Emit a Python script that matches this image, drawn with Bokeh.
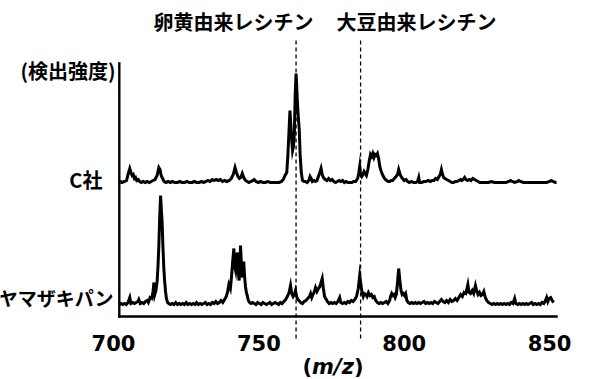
from bokeh.plotting import figure
from bokeh.models import Range1d
from bokeh.core.properties import value
from bokeh.embed import file_html
from bokeh.resources import INLINE

# ---------------- data ----------------
c_mz = [702.0, 702.5, 703.0, 703.8, 704.5, 705.0, 705.6, 706.0, 706.4, 706.8, 707.2, 707.6, 708.0, 708.5,
        709.0, 709.6, 710.2, 711.0, 711.6, 712.3, 713.0, 713.6, 714.3, 715.0, 715.6, 716.0, 716.4, 716.9,
        717.4, 718.0, 718.8, 719.5, 720.3, 721.0, 722.0, 722.8, 723.6, 724.5, 725.3, 726.0, 727.0, 727.8,
        728.6, 729.5, 730.3, 731.0, 731.8, 732.5, 733.2, 734.0, 734.6, 735.3, 736.0, 736.8, 737.5, 738.2,
        739.0, 739.8, 740.5, 741.2, 741.8, 742.3, 742.8, 743.3, 743.8, 744.3, 744.8, 745.4, 746.0, 746.6,
        747.2, 748.0, 748.4, 749.0, 749.8, 750.6, 751.4, 752.2, 753.0, 754.0, 755.0, 756.0, 757.0, 757.8,
        758.4, 759.0, 759.6, 760.0, 760.4, 760.7, 761.0, 761.3, 761.6, 761.9, 762.2, 762.5, 762.8, 763.0,
        763.3, 763.6, 763.9, 764.2, 764.6, 765.0, 765.5, 766.0, 766.6, 767.2, 767.6, 768.0, 768.4, 769.0,
        769.5, 770.0, 770.6, 771.0, 771.4, 771.8, 772.2, 772.8, 773.4, 774.0, 774.6, 775.2, 775.8, 776.4,
        777.0, 777.6, 778.2, 778.8, 779.4, 780.0, 780.6, 781.2, 782.0, 782.6, 783.3, 784.0, 784.4, 784.7,
        785.0, 785.4, 785.8, 786.2, 786.6, 787.0, 787.5, 788.0, 788.4, 788.8, 789.2, 789.6, 790.0, 790.4,
        790.8, 791.2, 791.6, 792.0, 792.5, 793.0, 793.5, 794.0, 794.5, 795.0, 795.5, 796.0, 796.6, 797.2,
        797.7, 798.1, 798.5, 798.9, 799.4, 800.0, 800.6, 801.2, 801.8, 802.5, 803.2, 804.0, 804.6, 805.0,
        805.3, 806.0, 806.8, 807.5, 808.2, 809.0, 809.6, 810.2, 810.8, 811.4, 812.0, 812.4, 812.8, 813.2,
        813.6, 814.0, 814.6, 815.2, 815.8, 816.4, 817.0, 817.6, 818.2, 818.8, 819.4, 819.8, 820.3, 820.8,
        821.2, 821.8, 822.4, 823.0, 823.6, 824.2, 824.8, 825.4, 826.0, 827.0, 828.0, 829.0, 830.0, 831.0,
        832.0, 833.0, 834.0, 835.0, 836.0, 836.6, 837.2, 838.0, 839.0, 839.4, 840.0, 841.0, 842.0, 843.0,
        844.0, 845.0, 846.0, 847.0, 848.0, 849.0, 850.0, 850.6, 851.2, 852.0, 852.4]
c_int = [2, 3, 2, 3, 4, 10, 16, 12, 9, 10, 6, 7, 4, 5,
         3, 2, 3, 2, 3, 2, 3, 4, 5, 9, 17, 15, 9, 6,
         3, 2, 3, 2, 3, 2, 2, 3, 2, 2, 3, 2, 2, 3,
         2, 2, 3, 2, 3, 4, 3, 5, 4, 5, 4, 5, 3, 4,
         3, 4, 6, 10, 17, 12, 8, 6, 7, 11, 7, 4, 3, 2,
         3, 4, 5, 3, 2, 3, 2, 2, 3, 2, 2, 2, 2, 3,
         5, 9, 12, 30, 55, 74, 60, 45, 34, 38, 50, 90, 111, 100,
         80, 66, 55, 30, 12, 4, 3, 3, 2, 4, 8, 6, 3, 4,
         3, 4, 9, 12, 16, 10, 7, 5, 4, 6, 4, 5, 3, 2,
         3, 4, 3, 4, 2, 3, 2, 2, 2, 3, 3, 6, 12, 18,
         10, 8, 10, 13, 11, 9, 15, 24, 30, 28, 31, 27, 30, 29,
         31, 26, 18, 14, 10, 7, 5, 4, 3, 3, 4, 4, 6, 8,
         10, 15, 11, 8, 6, 4, 5, 3, 2, 3, 2, 2, 3, 7,
         2, 2, 3, 3, 4, 3, 4, 4, 6, 5, 8, 10, 15, 10,
         7, 6, 5, 4, 3, 2, 2, 3, 3, 4, 5, 4, 5, 7,
         5, 4, 5, 4, 6, 5, 4, 3, 2, 2, 2, 2, 3, 2,
         2, 2, 2, 2, 3, 4, 3, 2, 3, 4, 3, 2, 2, 2,
         2, 2, 2, 2, 2, 2, 3, 4, 3, 2, 2]

y_mz = [702.0, 702.6, 703.2, 703.8, 704.4, 705.0, 705.6, 706.0, 706.6, 707.2, 707.8, 708.4, 708.7, 709.2,
        709.8, 710.4, 711.0, 711.6, 712.0, 712.6, 713.2, 713.6, 713.9, 714.2, 714.6, 715.0, 715.3, 715.6,
        715.9, 716.2, 716.5, 716.7, 717.0, 717.3, 717.6, 717.9, 718.2, 718.6, 719.0, 719.6, 720.2, 720.8,
        721.4, 722.0, 722.6, 723.2, 723.8, 724.4, 725.0, 725.6, 726.2, 726.8, 727.4, 728.0, 728.6, 729.2,
        729.8, 730.4, 731.0, 731.6, 732.2, 732.8, 733.4, 734.0, 734.6, 735.2, 735.8, 736.4, 737.0, 737.6,
        738.2, 738.8, 739.2, 739.7, 740.2, 740.6, 741.0, 741.4, 741.7, 742.0, 742.3, 742.6, 742.9, 743.2,
        743.5, 743.7, 744.0, 744.3, 744.6, 744.8, 745.1, 745.4, 745.7, 746.0, 746.4, 746.8, 747.3, 747.8,
        748.4, 749.0, 749.6, 750.2, 750.8, 751.4, 752.0, 752.6, 753.2, 753.8, 754.4, 755.0, 755.6, 756.2,
        756.8, 757.4, 758.0, 758.6, 759.2, 759.8, 760.4, 760.9, 761.3, 761.8, 762.2, 762.6, 763.0, 763.4,
        763.8, 764.4, 765.0, 765.6, 766.2, 766.8, 767.4, 767.8, 768.2, 768.6, 769.0, 769.5, 770.0, 770.5,
        771.0, 771.4, 771.8, 772.2, 772.6, 773.0, 773.6, 774.2, 774.8, 775.4, 776.0, 776.6, 777.2, 777.8,
        778.2, 778.8, 779.4, 780.0, 780.6, 781.2, 781.8, 782.4, 783.0, 783.6, 784.2, 784.7, 785.1, 785.5,
        785.9, 786.3, 786.8, 787.2, 787.7, 788.2, 788.7, 789.2, 789.7, 790.2, 790.8, 791.4, 792.0, 792.6,
        793.2, 793.8, 794.4, 795.0, 795.3, 795.7, 796.1, 796.5, 796.9, 797.3, 797.7, 798.1, 798.5, 798.9,
        799.3, 799.7, 800.1, 800.5, 800.9, 801.4, 802.0, 802.6, 803.2, 803.8, 804.4, 805.0, 805.6, 806.2,
        806.8, 807.4, 808.0, 808.6, 809.2, 809.8, 810.4, 811.0, 811.6, 812.2, 812.8, 813.4, 814.0, 814.6,
        815.2, 815.8, 816.4, 817.0, 817.6, 818.2, 818.8, 819.4, 820.0, 820.6, 821.2, 821.9, 822.3, 822.8,
        823.4, 823.9, 824.5, 824.9, 825.4, 825.9, 826.4, 826.9, 827.4, 827.9, 828.4, 829.0, 829.6, 830.2,
        830.8, 831.4, 832.0, 832.6, 833.2, 833.8, 834.4, 835.0, 835.6, 836.2, 836.8, 837.4, 838.0, 838.4,
        839.0, 839.6, 840.2, 840.8, 841.4, 842.0, 842.6, 843.2, 843.8, 844.4, 845.0, 845.6, 846.2, 846.8,
        847.4, 848.0, 848.6, 849.0, 849.4, 849.8, 850.4, 850.9, 851.4]
y_int = [2, 3, 2, 3, 2, 4, 9, 3, 4, 3, 4, 5, 7, 3,
         4, 3, 5, 6, 4, 9, 8, 15, 24, 12, 16, 25, 40, 61,
         90, 111, 95, 86, 60, 39, 25, 15, 8, 4, 3, 2, 3, 2,
         4, 2, 3, 2, 3, 2, 4, 2, 3, 2, 3, 2, 4, 2,
         3, 2, 3, 4, 2, 3, 2, 4, 3, 5, 3, 4, 6, 4,
         7, 10, 14, 22, 18, 30, 45, 58, 40, 36, 48, 54, 35, 26,
         40, 61, 42, 29, 38, 45, 30, 20, 14, 11, 6, 4, 3, 4,
         3, 2, 4, 3, 2, 4, 3, 2, 3, 4, 2, 3, 4, 3,
         2, 4, 3, 5, 7, 10, 14, 21, 13, 10, 12, 16, 10, 7,
         6, 4, 3, 5, 6, 8, 10, 13, 9, 12, 14, 19, 15, 18,
         20, 24, 28, 18, 10, 8, 5, 3, 4, 3, 4, 3, 5, 9,
         4, 3, 4, 3, 5, 4, 6, 5, 7, 10, 18, 31, 22, 14,
         10, 13, 12, 10, 14, 11, 12, 9, 10, 6, 4, 3, 4, 3,
         4, 5, 3, 6, 10, 13, 11, 12, 9, 12, 24, 38, 26, 16,
         12, 13, 11, 13, 6, 4, 3, 4, 3, 4, 3, 4, 3, 4,
         5, 3, 4, 3, 4, 3, 5, 4, 3, 5, 7, 5, 4, 6,
         4, 7, 5, 6, 8, 6, 9, 12, 10, 14, 13, 22, 14, 13,
         16, 13, 21, 16, 12, 14, 11, 12, 15, 9, 6, 4, 3, 2,
         3, 2, 3, 2, 3, 2, 3, 2, 3, 2, 4, 3, 8, 3,
         2, 3, 2, 3, 2, 3, 2, 3, 4, 2, 3, 2, 3, 2,
         4, 3, 6, 9, 5, 8, 9, 6, 4]

sample_names = ["C社", "ヤマザキパン"]
sample_offsets = [122, 0]          # vertical stacking of the two spectra
marker_mz = [762.8, 785.0]         # lecithin marker positions (dashed lines)
marker_names = ["卵黄由来レシチン", "大豆由来レシチン"]
ticks = [700, 750, 800, 850]
tick_labels = ["700", "750", "800", "850"]
x_axis_title = ["(", "m/z", ")"]
y_axis_title = "(検出強度)"

# ---------------- layout constants ----------------
W, H = 600, 379
PX_PER_UNIT = 2.907
X0_PX = 113                    # pixel position of m/z 700
x_lo = 700 - X0_PX / PX_PER_UNIT
x_hi = 700 + (W - X0_PX) / PX_PER_UNIT
axis_x0, axis_x1 = 702.0, 852.4
axis_y0, axis_top = -10, 243
CJK = value("Noto Sans CJK JP")
LAT = value("DejaVu Sans")

p = figure(width=W, height=H, output_backend="svg", toolbar_location=None,
           x_range=Range1d(x_lo, x_hi), y_range=Range1d(-73, 306),
           x_axis_location=None, y_axis_location=None, title=None,
           min_border_left=0, min_border_right=0, min_border_top=0, min_border_bottom=0,
           background_fill_color="white", border_fill_color="white")
p.outline_line_color = None
p.grid.visible = False

# dashed marker lines
p.segment(x0=marker_mz, y0=[266] * 2, x1=marker_mz, y1=[-32] * 2,
          line_color="black", line_width=1.3, line_dash="4 3")

# axis lines (left and bottom)
p.segment(x0=[axis_x0, axis_x0], y0=[axis_top, axis_y0],
          x1=[axis_x0, axis_x1], y1=[axis_y0, axis_y0],
          line_color="black", line_width=2.4, line_cap="square")

# spectra
for mz, inten, off in [(c_mz, c_int, sample_offsets[0]), (y_mz, y_int, sample_offsets[1])]:
    p.line(x=mz, y=[v + off for v in inten], line_color="black", line_width=3.0,
           line_join="miter")

# x tick labels
p.text(x=ticks, y=[-36] * len(ticks), text=tick_labels, text_font=LAT,
       text_font_style="bold", text_font_size="21px", text_align="center",
       text_baseline="alphabetic", text_color="black")

# x-axis title "(m/z)": italic m/z, upright parentheses
t_y = -60
p.text(x=[768.3], y=[t_y], text=[x_axis_title[0]], text_font=LAT, text_font_style="bold",
       text_font_size="21px", text_align="right", text_baseline="alphabetic", text_color="black")
p.text(x=[775.5], y=[t_y], text=[x_axis_title[1]], text_font=LAT, text_font_style="bold italic",
       text_font_size="21px", text_align="center", text_baseline="alphabetic", text_color="black")
p.text(x=[782.7], y=[t_y], text=[x_axis_title[2]], text_font=LAT, text_font_style="bold",
       text_font_size="21px", text_align="left", text_baseline="alphabetic", text_color="black")

# marker titles, y title, sample names
p.text(x=[741.3, 804.2], y=[285, 285], text=marker_names, text_font=CJK,
       text_font_style="bold", text_font_size="20px", text_align="center",
       text_baseline="middle", text_color="black")
p.text(x=[700.7], y=[236], text=[y_axis_title], text_font=CJK,
       text_font_style="bold", text_font_size="20px", text_align="right",
       text_baseline="middle", text_color="black")
p.text(x=[696.2], y=[127.5], text=[sample_names[0]], text_font=CJK,
       text_font_style="bold", text_font_size="20px", text_align="right",
       text_baseline="middle", text_color="black")
p.text(x=[699.7], y=[9.5], text=[sample_names[1]], text_font=CJK,
       text_font_style="bold", text_font_size="19px", text_align="right",
       text_baseline="middle", text_color="black")

open("out.html", "w").write(file_html(p, INLINE))
